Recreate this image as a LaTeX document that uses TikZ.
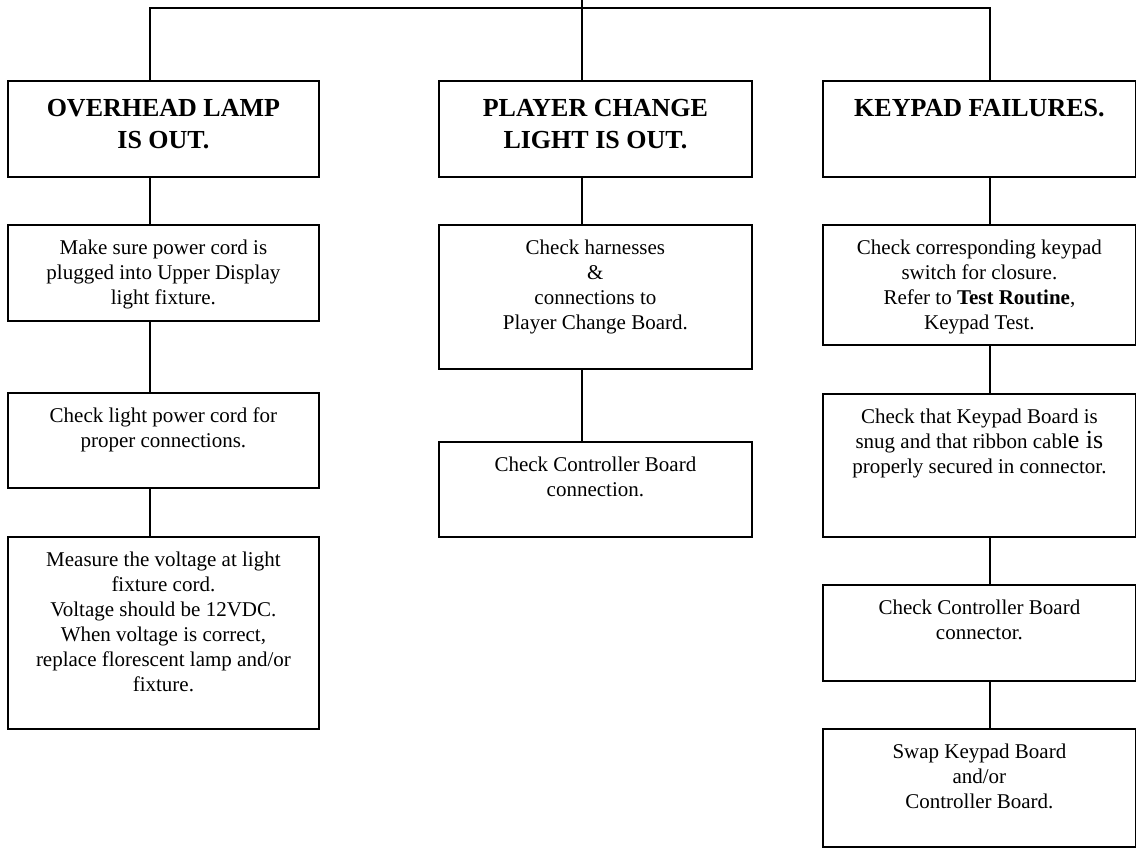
\documentclass[tikz,border=0pt]{standalone}
\usepackage{fontspec}
\setmainfont{Liberation Serif}
\tikzset{
  box/.style={draw, line width=1.8pt, inner sep=0pt, anchor=north west},
  wire/.style={line width=1.8pt}
}
\newcommand{\hdtext}[3]{\parbox[t][#2][t]{#1}{\centering\fontsize{26}{32}\selectfont\bfseries\rule{0pt}{35.5pt}#3}}
\newcommand{\bdtext}[3]{\parbox[t][#2][t]{#1}{\centering\fontsize{21}{25}\selectfont\rule{0pt}{30pt}#3}}
\begin{document}
\begin{tikzpicture}[x=1pt,y=-1pt]
\useasboundingbox (0,0) rectangle (1136,848);
% column 1
\node[box] (h1) at (7,80) {\hdtext{311pt}{96pt}{OVERHEAD LAMP\\IS OUT.}};
\node[box] (a1) at (7,224) {\bdtext{311pt}{96pt}{Make sure power cord is\\plugged into Upper Display\\light fixture.}};
\node[box] (a2) at (7,392) {\bdtext{311pt}{95pt}{Check light power cord for\\proper connections.}};
\node[box] (a3) at (7,536) {\bdtext{311pt}{192pt}{Measure the voltage at light\\fixture cord.\\Voltage should be 12VDC.\\When voltage is correct,\\replace florescent lamp and/or\\fixture.}};
% column 2
\node[box] (h2) at (438,80) {\hdtext{313pt}{96pt}{PLAYER CHANGE\\LIGHT IS OUT.}};
\node[box] (b1) at (438,224) {\bdtext{313pt}{144pt}{Check harnesses\\\&\\connections to\\Player Change Board.}};
\node[box] (b2) at (438,441) {\bdtext{313pt}{95pt}{Check Controller Board\\connection.}};
% column 3
\node[box] (h3) at (822,80) {\hdtext{313pt}{96pt}{KEYPAD FAILURES.}};
\node[box] (k1) at (822,224) {\bdtext{313pt}{120pt}{Check corresponding keypad\\switch for closure.\\Refer to \textbf{Test Routine},\\Keypad Test.}};
\node[box] (k2) at (822,393) {\bdtext{313pt}{143pt}{Check that Keypad Board is\\snug and that ribbon cabl{\fontsize{26}{25}\selectfont e is}\\properly secured in connector.}};
\node[box] (k3) at (822,584) {\bdtext{313pt}{96pt}{Check Controller Board\\connector.}};
\node[box] (k4) at (822,728) {\bdtext{313pt}{118pt}{Swap Keypad Board\\and/or\\Controller Board.}};
% connector columns
\coordinate (c1) at (150,0);
\coordinate (c2) at (582,0);
\coordinate (c3) at (990,0);
\coordinate (busL) at (150,8);
\coordinate (busR) at (990,8);
% top bus
\draw[wire] (c2) -- (h2.north -| c2);
\draw[wire] (h1.north -| c1) -- (busL) -- (busR) -- (h3.north -| c3);
% column links
\draw[wire] (h1.south -| c1) -- (a1.north -| c1);
\draw[wire] (a1.south -| c1) -- (a2.north -| c1);
\draw[wire] (a2.south -| c1) -- (a3.north -| c1);
\draw[wire] (h2.south -| c2) -- (b1.north -| c2);
\draw[wire] (b1.south -| c2) -- (b2.north -| c2);
\draw[wire] (h3.south -| c3) -- (k1.north -| c3);
\draw[wire] (k1.south -| c3) -- (k2.north -| c3);
\draw[wire] (k2.south -| c3) -- (k3.north -| c3);
\draw[wire] (k3.south -| c3) -- (k4.north -| c3);
\end{tikzpicture}
\end{document}
